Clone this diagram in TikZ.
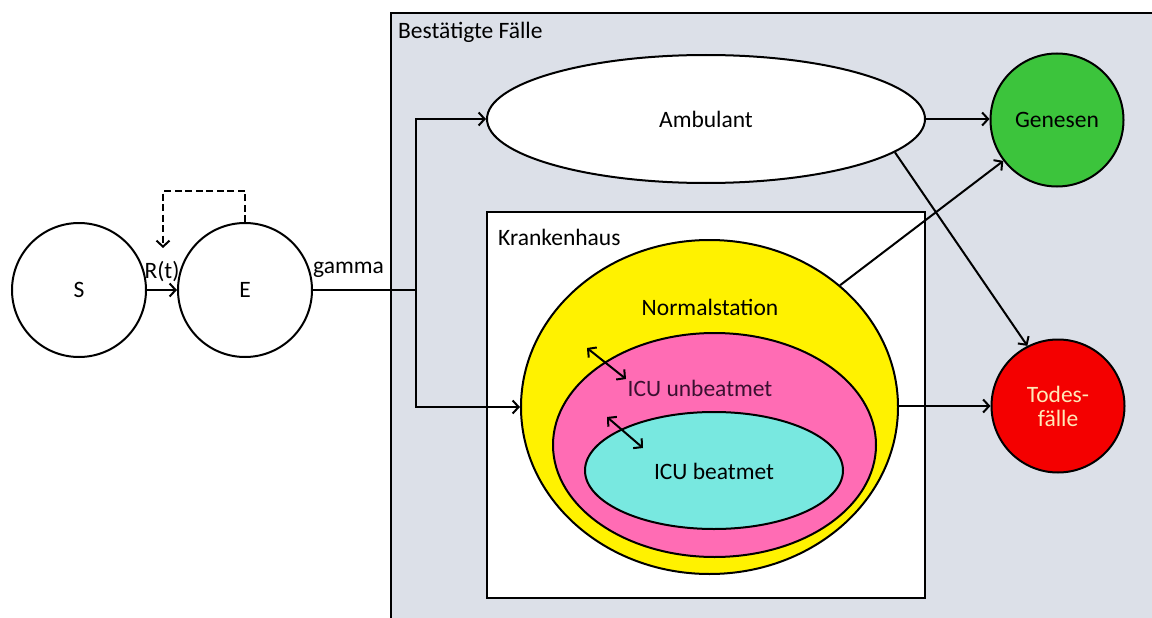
\documentclass[tikz,border=0pt]{standalone}
\usepackage{fontspec}
\setmainfont{Carlito}
\usetikzlibrary{shapes.geometric,arrows.meta}
\definecolor{boxbg}{HTML}{DCE0E8}
\definecolor{gengreen}{HTML}{3CC43C}
\definecolor{todred}{HTML}{F40000}
\definecolor{icupink}{HTML}{FF6CB4}
\definecolor{icucyan}{HTML}{78E8E0}
\definecolor{todtext}{HTML}{FFE9B8}
\definecolor{iutext}{HTML}{3A1030}
\begin{document}
\begin{tikzpicture}[x=1pt,y=-1pt,
  font=\fontsize{23.5}{27}\selectfont,
  lw/.style={line width=2pt},
  arr/.style={lw,-{Straight Barb[length=6pt,width=13pt,line width=2pt]}},
  darr/.style={lw,{Straight Barb[length=6pt,width=13pt,line width=2pt]}-{Straight Barb[length=6pt,width=13pt,line width=2pt]}},
  circ/.style={circle,draw,lw,inner sep=0pt,minimum size=134pt},
  ell/.style={ellipse,draw,lw,inner sep=0pt},
  lbl/.style={inner sep=0pt}]
\useasboundingbox (0,0) rectangle (1152,618);
\clip (0,0) rectangle (1152,618);
% confirmed cases box
\draw[lw,fill=boxbg] (391,13) rectangle (1165,640);
\node[lbl,anchor=west] (bf) at (398,32) {Bestätigte Fälle};
% hospital box
\draw[lw,fill=white] (487,212) rectangle (925,598);
\node[lbl,anchor=west] (kh) at (498,237) {Krankenhaus};
% nested ellipses
\node[ell,fill=yellow,minimum width=377pt,minimum height=334pt] (yel) at (709.5,407) {};
\node[ell,fill=icupink,minimum width=323pt,minimum height=224pt] (pink) at (714.5,445) {};
\node[ell,fill=icucyan,minimum width=258pt,minimum height=117pt] (cyan) at (714,470.5) {};
\node[lbl] (ns) at (710,307) {Normalstation};
\node[lbl,text=iutext] (iu) at (700,388) {ICU unbeatmet};
\node[lbl] (ib) at (714,471) {ICU beatmet};
\coordinate (d1a) at (587,348);
\coordinate (d1b) at (626,379);
\coordinate (d2a) at (607,417);
\coordinate (d2b) at (643,448);
\draw[darr] (d1a) -- (d1b);
\draw[darr] (d2a) -- (d2b);
% ambulant
\node[ell,fill=white,minimum width=438pt,minimum height=128pt] (amb) at (706,119) {Ambulant};
% outcomes
\node[circ,fill=gengreen,minimum size=133pt] (gen) at (1057,120) {Genesen};
\node[circ,fill=todred,minimum size=133pt,text=todtext,align=center] (tod) at (1058,406) {Todes-\\[-3pt]fälle};
% S and E
\node[circ] (S) at (79,290) {S};
\node[circ] (E) at (245,290) {E};
\draw[arr] (S) -- (E);
\node[lbl] (rt) at (162,272) {R(t)};
\coordinate (dtip) at (163,248);
\draw[lw,dash pattern=on 7pt off 3.5pt,-{Straight Barb[length=6pt,width=13pt,line width=2pt]}] (E.north) -- ++(0,-31) -| (dtip);
\node[lbl,anchor=west] (gm) at (313,270) {gamma};
\coordinate (j) at (416,290);
\draw[lw] (E.east) -- (j);
\draw[arr] (j) |- (amb.west);
\draw[arr] (j) |- (yel.west);
% outcome flows
\draw[arr] (amb.east) -- (gen.west |- amb.east);
\draw[arr] (amb.-10) -- (tod.117);
\draw[arr] (yel.43) -- (gen);
\draw[arr] (tod.west -| yel.east) -- (tod.west);
\end{tikzpicture}
\end{document}
